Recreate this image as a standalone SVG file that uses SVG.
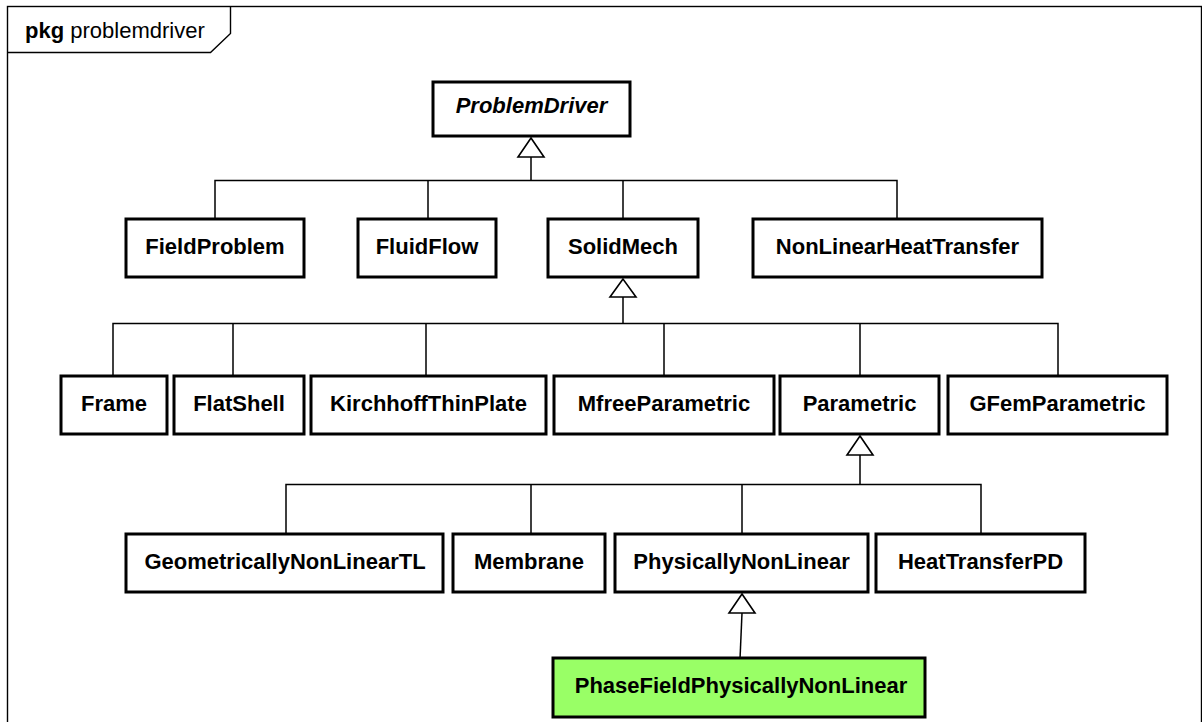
<svg xmlns="http://www.w3.org/2000/svg" width="1202" height="722" viewBox="0 0 1202 722">
  <style>
    .frame { fill: none; stroke: #000; stroke-width: 1.4; }
    .box { fill: #fff; stroke: #000; stroke-width: 3; }
    .box.hl { fill: #99ff66; }
    .lbl { font-family: "Liberation Sans", Arial, sans-serif; font-size: 22px; font-weight: bold; fill: #000; text-anchor: middle; }
    .abstract { font-style: italic; }
    .wire { fill: none; stroke: #000; stroke-width: 1.5; }
    .gen { fill: #fff; stroke: #000; stroke-width: 1.6; stroke-linejoin: miter; }
    .tab { font-family: "Liberation Sans", Arial, sans-serif; font-size: 22px; fill: #000; }
  </style>

  <rect width="1202" height="722" fill="#fff"/>

  <!-- package frame -->
  <g id="package">
    <rect class="frame" x="7.5" y="6.5" width="1194" height="730"/>
    <path class="frame" d="M7.5 52.5 H210.5 L230.5 33.5 V6.5"/>
    <text class="tab" x="25" y="38"><tspan font-weight="bold">pkg</tspan> problemdriver</text>
  </g>

  <!-- generalization connectors -->
  <g id="connectors">
    <!-- ProblemDriver subtypes -->
    <path class="wire" d="M531 157 V180.5 M215 219 V180.5 H897 V219 M428 180.5 V219 M623 180.5 V219"/>
    <polygon class="gen" points="531,138 518,157 544,157"/>
    <!-- SolidMech subtypes -->
    <path class="wire" d="M623 297 V323.5 M113 376 V323.5 H1058 V376 M233 323.5 V376 M426 323.5 V376 M664 323.5 V376 M860 323.5 V376"/>
    <polygon class="gen" points="623,279 610,297 636,297"/>
    <!-- Parametric subtypes -->
    <path class="wire" d="M860 455 V484.5 M286 534 V484.5 H981 V534 M531 484.5 V534 M742 484.5 V534"/>
    <polygon class="gen" points="860,436 847,455 873,455"/>
    <!-- PhysicallyNonLinear subtype -->
    <path class="wire" d="M742 613 L740 659"/>
    <polygon class="gen" points="742,594 729,613 755,613"/>
  </g>

  <!-- classes -->
  <g id="ProblemDriver">
    <rect class="box" x="433" y="82" width="197" height="54"/>
    <text class="lbl abstract" x="531.5" y="113">ProblemDriver</text>
  </g>

  <g id="FieldProblem">
    <rect class="box" x="126" y="219" width="178" height="58"/>
    <text class="lbl" x="215" y="254">FieldProblem</text>
  </g>
  <g id="FluidFlow">
    <rect class="box" x="358" y="219" width="138" height="58"/>
    <text class="lbl" x="427" y="254">FluidFlow</text>
  </g>
  <g id="SolidMech">
    <rect class="box" x="548" y="219" width="150" height="58"/>
    <text class="lbl" x="623" y="254">SolidMech</text>
  </g>
  <g id="NonLinearHeatTransfer">
    <rect class="box" x="753" y="219" width="289" height="58"/>
    <text class="lbl" x="897.5" y="254">NonLinearHeatTransfer</text>
  </g>

  <g id="Frame">
    <rect class="box" x="61" y="376" width="106" height="58"/>
    <text class="lbl" x="114" y="411">Frame</text>
  </g>
  <g id="FlatShell">
    <rect class="box" x="174" y="376" width="130" height="58"/>
    <text class="lbl" x="239" y="411">FlatShell</text>
  </g>
  <g id="KirchhoffThinPlate">
    <rect class="box" x="311" y="376" width="235" height="58"/>
    <text class="lbl" x="428.5" y="411">KirchhoffThinPlate</text>
  </g>
  <g id="MfreeParametric">
    <rect class="box" x="554" y="376" width="220" height="58"/>
    <text class="lbl" x="664" y="411">MfreeParametric</text>
  </g>
  <g id="Parametric">
    <rect class="box" x="780" y="376" width="159" height="58"/>
    <text class="lbl" x="859.5" y="411">Parametric</text>
  </g>
  <g id="GFemParametric">
    <rect class="box" x="948" y="376" width="219" height="58"/>
    <text class="lbl" x="1057.5" y="411">GFemParametric</text>
  </g>

  <g id="GeometricallyNonLinearTL">
    <rect class="box" x="126" y="534" width="317" height="58"/>
    <text class="lbl" x="285" y="569">GeometricallyNonLinearTL</text>
  </g>
  <g id="Membrane">
    <rect class="box" x="453" y="534" width="152" height="58"/>
    <text class="lbl" x="529" y="569">Membrane</text>
  </g>
  <g id="PhysicallyNonLinear">
    <rect class="box" x="615" y="534" width="253" height="58"/>
    <text class="lbl" x="741.5" y="569">PhysicallyNonLinear</text>
  </g>
  <g id="HeatTransferPD">
    <rect class="box" x="876" y="534" width="209" height="58"/>
    <text class="lbl" x="980.5" y="569">HeatTransferPD</text>
  </g>

  <g id="PhaseFieldPhysicallyNonLinear">
    <rect class="box hl" x="553" y="658" width="372" height="59"/>
    <text class="lbl" x="741" y="693">PhaseFieldPhysicallyNonLinear</text>
  </g>
</svg>
